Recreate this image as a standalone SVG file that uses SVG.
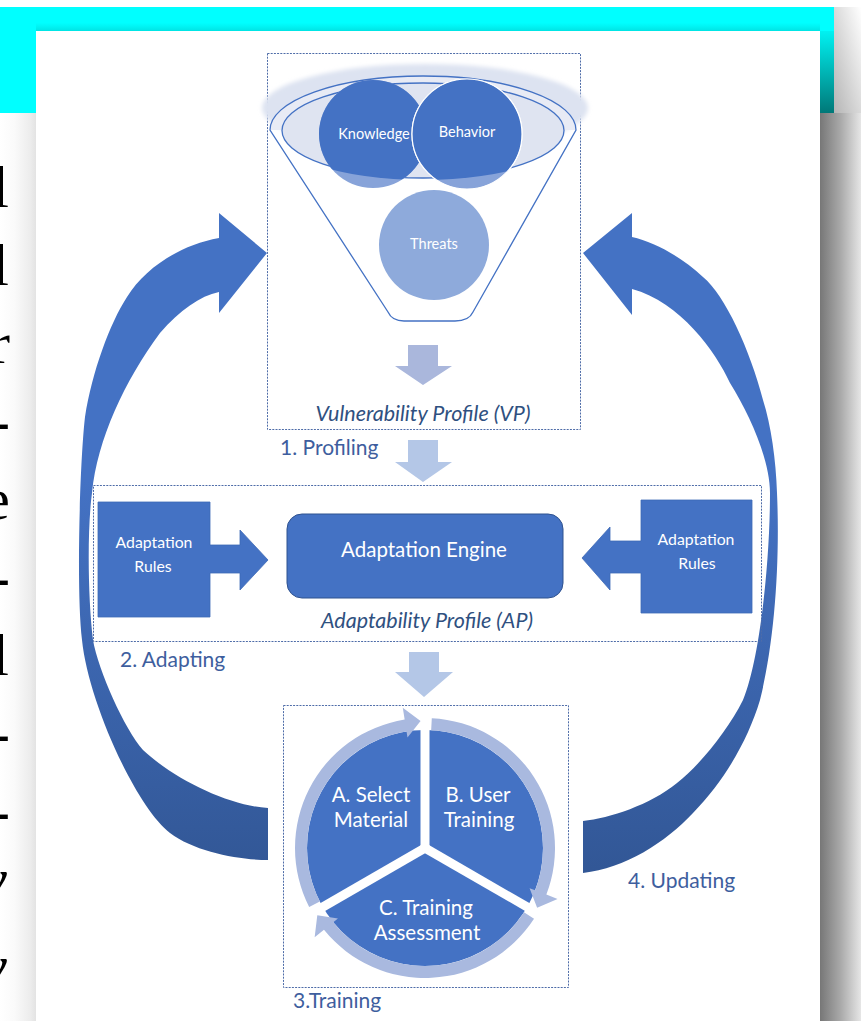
<svg xmlns="http://www.w3.org/2000/svg" width="861" height="1021" viewBox="0 0 861 1021">
  <defs>
    <linearGradient id="leftShade" x1="0" y1="0" x2="1" y2="0">
      <stop offset="0" stop-color="#ffffff"/>
      <stop offset="0.4" stop-color="#fafafa"/>
      <stop offset="0.85" stop-color="#ececec"/>
      <stop offset="1" stop-color="#e3e3e3"/>
    </linearGradient>
    <linearGradient id="rightShade" x1="0" y1="0" x2="1" y2="0">
      <stop offset="0" stop-color="#777777"/>
      <stop offset="0.5" stop-color="#a9a9a9"/>
      <stop offset="1" stop-color="#e6e6e6"/>
    </linearGradient>
    <linearGradient id="cyanEdge" x1="0" y1="0" x2="0" y2="1">
      <stop offset="0" stop-color="#00f2f2"/>
      <stop offset="1" stop-color="#007878"/>
    </linearGradient>
    <linearGradient id="cyanTop" x1="0" y1="0" x2="0" y2="1">
      <stop offset="0" stop-color="#00ffff"/>
      <stop offset="1" stop-color="#00e4e4"/>
    </linearGradient>
    <linearGradient id="cornerShade" x1="1" y1="0" x2="0" y2="1">
      <stop offset="0" stop-color="#ffffff"/>
      <stop offset="1" stop-color="#b5b5b5"/>
    </linearGradient>
    <linearGradient id="loopFill" gradientUnits="userSpaceOnUse" x1="0" y1="480" x2="0" y2="870">
      <stop offset="0" stop-color="#4472c4"/>
      <stop offset="1" stop-color="#325796"/>
    </linearGradient>
    <clipPath id="rimClip">
      <ellipse cx="423" cy="128" rx="152" ry="52"/>
    </clipPath>
    <filter id="soft" x="-10%" y="-30%" width="120%" height="160%">
      <feGaussianBlur stdDeviation="2"/>
    </filter>
  </defs>
  <style>
    .frame { fill: none; stroke: #4e6ca8; stroke-width: 1; stroke-dasharray: 2 1.2; }
    .solid { fill: #4472c4; }
    .sans { font-family: Lato, "Open Sans", "Liberation Sans", sans-serif; }
    .wt { fill: #ffffff; text-anchor: middle; }
    .small { font-size: 14.5px; }
    .rules { font-size: 15.8px; }
    .mid { font-size: 20.5px; }
    .step { fill: #3e5e9e; font-size: 21px; }
    .prof { fill: #2f5080; font-size: 21.5px; font-style: italic; text-anchor: middle; }
    .serif { font-family: "Liberation Serif", "Times New Roman", serif; font-size: 60px; fill: #000000; text-anchor: end; }
    .ring { fill: #a9b9df; }
  </style>

  <!-- slide backdrop -->
  <rect x="0" y="0" width="861" height="1021" fill="#ffffff"/>
  <rect x="0" y="113" width="36" height="908" fill="url(#leftShade)"/>
  <g id="slide-text">
    <text class="serif" x="9" y="207">l</text>
    <text class="serif" x="9" y="285">l</text>
    <text class="serif" x="10" y="363">r</text>
    <text class="serif" x="10" y="441">-</text>
    <text class="serif" x="10" y="519">e</text>
    <text class="serif" x="10" y="597">-</text>
    <text class="serif" x="9" y="675">l</text>
    <text class="serif" x="10" y="753">-</text>
    <text class="serif" x="10" y="831">-</text>
    <text class="serif" x="7" y="899" font-style="italic">y</text>
    <text class="serif" x="7" y="986" font-style="italic">y</text>
  </g>
  <rect x="0" y="7" width="834" height="106" fill="#00ffff"/>
  <rect x="36" y="23" width="784" height="8" fill="url(#cyanTop)"/>
  <rect x="820" y="31" width="14" height="82" fill="url(#cyanEdge)"/>
  <rect x="834" y="7" width="27" height="106" fill="url(#cornerShade)"/>
  <rect x="820" y="113" width="41" height="908" fill="url(#rightShade)"/>

  <!-- page -->
  <rect x="36" y="31" width="784" height="990" fill="#ffffff"/>

  <!-- feedback loops and flow arrows -->
  <g id="connectors">
    <path id="loop-left" fill="url(#loopFill)" d="M219,238 C180,245 145,268 127,297 C110,323 92,372 85,417 C80,460 76,590 82,640 C88,700 135,806 170,833 C195,852 240,860 268,860 L268,808 C230,806 175,780 143,750 C125,730 98,670 93,640 C88,600 87,530 92,493 C97,440 125,380 160,333 C180,310 200,296 219,292 L219,313 L267,253 L219,213 Z"/>
    <path id="loop-right" fill="url(#loopFill)" d="M632,237 C655,242 683,258 703,277 C725,295 750,350 763,400 C771,425 776,460 777,493 C780,560 775,640 760,700 C748,740 725,780 693,813 C665,843 625,868 583,873 L583,821 C610,818 650,805 677,783 C700,765 728,730 743,700 C760,660 770,560 770,493 C770,460 750,415 730,383 C716,352 680,302 632,289 L632,315 L583,253 L632,213 Z"/>
    <path id="flow-1" fill="#aab7dc" d="M408,345 H438 V366 H452 L423,385 L395,366 H408 Z"/>
    <path id="flow-2" fill="#b4c7e7" d="M408,440 H438 V462 H452 L423,482 L395,462 H408 Z"/>
    <path id="flow-3" fill="#b4c7e7" d="M409,652 H439 V672 H453 L424,697 L395,672 H409 Z"/>
  </g>

  <!-- 1. profiling -->
  <g id="vulnerability-profile">
    <rect class="frame" x="267.5" y="53.5" width="313" height="376"/>
    <ellipse cx="425" cy="108" rx="163" ry="44" fill="#dde3f1" filter="url(#soft)"/>
    <path d="M270,130 A153,54 0 0 1 576,130 Z" fill="#e8ebf5"/>
    <path d="M270,130 A153,54 0 0 1 576,130 L473,312 Q469,321 455,321 L404,321 Q392,321 388,312 Z" fill="none" stroke="#4472c4" stroke-width="1.3"/>
    <ellipse cx="423" cy="130.5" rx="141" ry="47.5" fill="#dfe4f1" stroke="#4472c4" stroke-width="1.3"/>
    <g id="knowledge">
      <circle cx="373" cy="134" r="54" fill="#87a3d9"/>
      <circle cx="373" cy="134" r="54" fill="#4472c4" clip-path="url(#rimClip)"/>
      <text class="sans wt small" x="374" y="139">Knowledge</text>
    </g>
    <g id="behavior">
      <circle cx="467" cy="134" r="55" fill="#87a3d9" stroke="#ffffff" stroke-width="1.2"/>
      <circle cx="467" cy="134" r="55" fill="#4472c4" stroke="#ffffff" stroke-width="1.2" clip-path="url(#rimClip)"/>
      <text class="sans wt small" x="467" y="137">Behavior</text>
    </g>
    <g id="threats">
      <circle cx="434" cy="245" r="55" fill="#8eaadb"/>
      <text class="sans wt small" x="434" y="249">Threats</text>
    </g>
    <text class="sans prof" x="423" y="421">Vulnerability Profile (VP)</text>
  </g>
  <text id="label-profiling" class="sans step" x="280" y="455">1. Profiling</text>

  <!-- 2. adapting -->
  <g id="adaptability-profile">
    <rect class="frame" x="93.5" y="485.5" width="668" height="156"/>
    <g id="rules-left">
      <path class="solid" stroke="#3d69b6" stroke-width="0.8" d="M98,502 H210 V545 H240 V530 L268,560 L240,590 V573 H210 V617 H98 Z"/>
      <text class="sans wt rules" x="154" y="548">Adaptation</text>
      <text class="sans wt rules" x="153" y="572">Rules</text>
    </g>
    <g id="rules-right">
      <path class="solid" stroke="#3d69b6" stroke-width="0.8" d="M752,500 H641 V541 H610 V527 L582,558 L610,590 V573 H641 V613 H752 Z"/>
      <text class="sans wt rules" x="696" y="545">Adaptation</text>
      <text class="sans wt rules" x="697" y="569">Rules</text>
    </g>
    <g id="engine">
      <rect class="solid" x="287" y="514" width="276" height="84" rx="15" stroke="#2f528f" stroke-width="1"/>
      <text class="sans wt mid" x="424" y="557">Adaptation Engine</text>
    </g>
    <text class="sans prof" x="427" y="628">Adaptability Profile (AP)</text>
  </g>
  <text id="label-adapting" class="sans step" x="120" y="667">2. Adapting</text>

  <!-- 3. training cycle -->
  <g id="training">
    <rect class="frame" x="283.5" y="705.5" width="285" height="282"/>
    <circle class="solid" cx="425" cy="848" r="118"/>
    <g stroke="#ffffff" stroke-width="9" stroke-linecap="butt">
      <line x1="425" y1="848" x2="425" y2="716"/>
      <line x1="425" y1="848" x2="539.3" y2="914"/>
      <line x1="425" y1="848" x2="310.7" y2="914"/>
    </g>
    <circle cx="425" cy="848" r="5" fill="#ffffff"/>
    <path class="ring" d="M309.17,907.02 A130,130 0 0 1 404.66,719.60 L402.79,707.75 L420.57,721.08 L407.48,737.38 L406.54,731.45 A118,118 0 0 0 319.86,901.57 Z"/>
    <path class="ring" d="M431.80,718.18 A130,130 0 0 1 546.37,894.59 L557.57,898.89 L537.13,907.63 L529.56,888.14 L535.16,890.29 A118,118 0 0 0 431.17,730.16 Z"/>
    <path class="ring" d="M534.03,918.80 A130,130 0 0 1 323.98,929.81 L314.65,937.36 L317.30,915.30 L337.96,918.48 L333.30,922.26 A118,118 0 0 0 523.97,912.26 Z"/>
    <g id="select-material">
      <text class="sans wt mid" x="371" y="802">A. Select</text>
      <text class="sans wt mid" x="371" y="827">Material</text>
    </g>
    <g id="user-training">
      <text class="sans wt mid" x="478" y="802">B. User</text>
      <text class="sans wt mid" x="479" y="827">Training</text>
    </g>
    <g id="training-assessment">
      <text class="sans wt mid" x="426" y="915">C. Training</text>
      <text class="sans wt mid" x="427" y="940">Assessment</text>
    </g>
  </g>
  <text id="label-training" class="sans step" x="293" y="1008" font-size="22">3.Training</text>
  <text id="label-updating" class="sans step" x="628" y="888">4. Updating</text>
</svg>
